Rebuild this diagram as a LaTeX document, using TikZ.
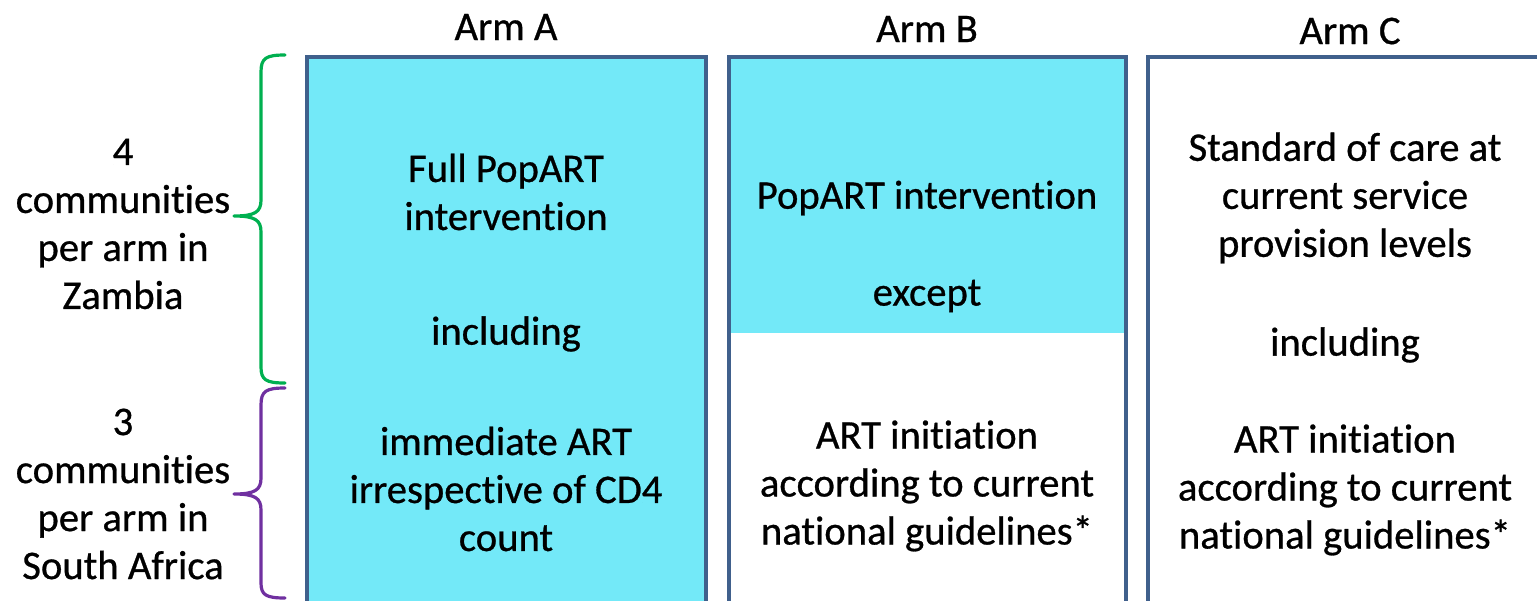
\documentclass[tikz,border=0pt]{standalone}
\usepackage{fontspec}
\setmainfont{Carlito}[Ligatures=NoCommon,FakeBold=0.7]
\definecolor{armcyan}{RGB}{115,233,248}
\definecolor{armedge}{RGB}{64,96,140}
\definecolor{bracegreen}{RGB}{0,176,80}
\definecolor{bracepurple}{RGB}{112,48,160}
\begin{document}
\begin{tikzpicture}[x=0.75pt,y=-0.75pt,
  txt/.style={align=center,font=\fontsize{30.5}{36}\selectfont,inner sep=0pt},
  armbox/.style={draw=armedge,line width=2.6pt},
  bracepath/.style={line width=2.4pt,line cap=round,line join=round}]
\clip (0,0) rectangle (1537,600);
\fill[white] (0,0) rectangle (1537,600);
% boxes
\fill[armcyan] (307,57) rectangle (706,640);
\draw[armbox] (307,57) rectangle (706,640);
\fill[armcyan] (729,57) rectangle (1126,333);
\draw[armbox] (729,57) rectangle (1126,640);
\draw[armbox] (1148,57) rectangle (1580,640);
% headers
\node[txt] (ha) at (506,27) {Arm A};
\node[txt] (hb) at (927,29) {Arm B};
\node[txt] (hc) at (1350,31) {Arm C};
% left labels
\node[txt] (zam) at (123,224) {4\\communities\\per arm in\\Zambia};
\node[txt] (saf) at (123,494) {3\\communities\\per arm in\\South Africa};
% braces
\draw[bracepath,bracegreen] (285,55) .. controls (266,55) and (261,58) .. (261,72) -- (261,200)
  .. controls (261,212) and (255,216) .. (234,216)
  .. controls (255,216) and (261,220) .. (261,232) -- (261,367)
  .. controls (261,380) and (266,383) .. (285,383);
\draw[bracepath,bracepurple] (285,388) .. controls (266,388) and (261,391) .. (261,405) -- (261,478)
  .. controls (261,490) and (255,494) .. (234,494)
  .. controls (255,494) and (261,498) .. (261,510) -- (261,583)
  .. controls (261,595) and (266,598) .. (285,598);
% arm A
\node[txt] (a1) at (506,192) {Full PopART\\intervention};
\node[txt] (a2) at (506,334) {including};
\node[txt] (a3) at (506,489) {immediate ART\\irrespective of CD4\\count};
% arm B
\node[txt] (b1) at (927,198) {PopART intervention};
\node[txt] (b2) at (927,296) {except};
\node[txt] (b3) at (927,486) {ART initiation\\according to current\\national guidelines*};
% arm C
\node[txt] (c1) at (1345,198) {Standard of care at\\current service\\provision levels};
\node[txt] (c2) at (1345,345) {including};
\node[txt] (c3) at (1345,490) {ART initiation\\according to current\\national guidelines*};
\end{tikzpicture}
\end{document}
